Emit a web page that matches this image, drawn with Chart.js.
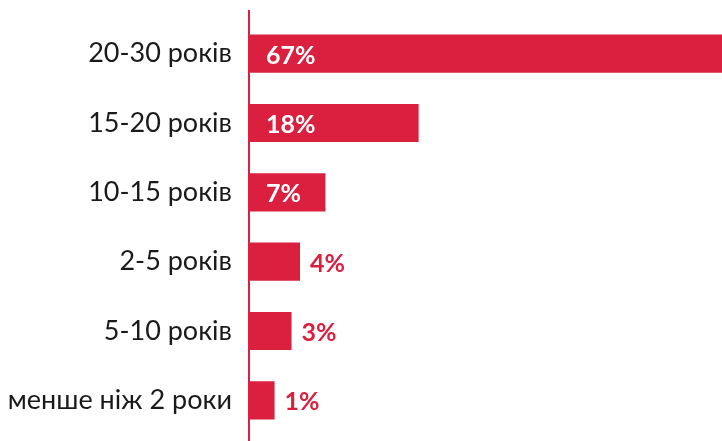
<!DOCTYPE html>
<html>
<head>
<meta charset="utf-8">
<script src="https://cdn.jsdelivr.net/npm/chart.js@4"></script>
<style>
  html, body { margin: 0; padding: 0; background: #fff; }
  #wrap { width: 722px; height: 441px; position: relative; }
</style>
</head>
<body>
<div id="wrap"><canvas id="chart"></canvas></div>
<script>
const categories = ['20-30 років', '15-20 років', '10-15 років', '2-5 років', '5-10 років', 'менше ніж 2 роки'];
const shares = [67, 18, 7, 4, 3, 1];
const shareLabels = ['67%', '18%', '7%', '4%', '3%', '1%'];

const RED = '#db1f3f';
const X_MIN = -1.9;
const X_MAX = 53.8;

// подписи значений: внутри столбца (белые) или справа (красные)
const valueLabels = {
  id: 'valueLabels',
  afterDatasetsDraw(chart) {
    const { ctx } = chart;
    const meta = chart.getDatasetMeta(0);
    ctx.save();
    ctx.font = 'bold 25px Lato';
    ctx.textBaseline = 'middle';
    ctx.textAlign = 'left';
    meta.data.forEach((bar, i) => {
      const inside = shares[i] >= 5;
      if (inside) {
        ctx.fillStyle = '#ffffff';
        ctx.fillText(shareLabels[i], bar.base + 16, bar.y + 2);
      } else {
        ctx.fillStyle = RED;
        ctx.fillText(shareLabels[i], bar.x + 10, bar.y + 2);
      }
    });
    ctx.restore();
  }
};

// вертикальная ось слева
const axisLine = {
  id: 'axisLine',
  afterDraw(chart) {
    const { ctx, chartArea } = chart;
    ctx.save();
    ctx.strokeStyle = RED;
    ctx.lineWidth = 2;
    ctx.beginPath();
    ctx.moveTo(chartArea.left - 1, 10);
    ctx.lineTo(chartArea.left - 1, chart.height);
    ctx.stroke();
    ctx.restore();
  }
};

new Chart(document.getElementById('chart'), {
  type: 'bar',
  data: {
    labels: categories,
    datasets: [{
      data: shares,
      base: X_MIN,
      backgroundColor: RED,
      borderWidth: 0,
      barPercentage: 0.55,
      categoryPercentage: 1
    }]
  },
  options: {
    indexAxis: 'y',
    responsive: true,
    maintainAspectRatio: false,
    animation: false,
    layout: {
      padding: { top: 19, bottom: 6, left: 0, right: 0 }
    },
    plugins: {
      legend: { display: false },
      title: { display: false },
      tooltip: { enabled: false }
    },
    scales: {
      x: {
        display: false,
        min: X_MIN,
        max: X_MAX
      },
      y: {
        grid: { display: false, drawTicks: false },
        border: { display: false },
        afterFit: (scale) => {
          scale.width = 250;
          scale.paddingTop = 0;
          scale.paddingBottom = 0;
        },
        ticks: {
          padding: 18,
          color: '#1a1a1a',
          font: { family: 'Lato', size: 27 }
        }
      }
    }
  },
  plugins: [valueLabels, axisLine]
});
</script>
</body>
</html>
